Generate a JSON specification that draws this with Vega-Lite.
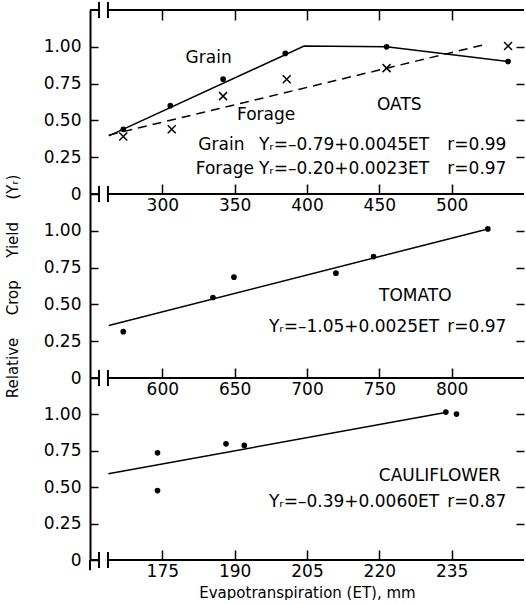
{
  "$schema": "https://vega.github.io/schema/vega-lite/v6.json",
  "background": "white",
  "padding": {"left": 5, "top": 0, "right": 0, "bottom": 0},
  "bounds": "flush",
  "spacing": 0,
  "config": {
    "view": {"stroke": null},
    "font": "DejaVu Sans",
    "axis": {"grid": false, "labelFont": "DejaVu Sans", "labelFontSize": 17, "labelColor": "black", "tickColor": "black", "domainColor": "black", "titleFont": "DejaVu Sans", "titleFontSize": 15, "titleFontWeight": "normal", "titleColor": "black", "tickWidth": 1.5, "domainWidth": 2},
    "text": {"font": "DejaVu Sans", "fontSize": 17, "color": "black"}
  },
  "datasets": {
    "oats_axes": [
      {"x": 250, "x2": 256.2, "y": 0, "y2": 0},
      {"x": 262.4, "x2": 550, "y": 0, "y2": 0},
      {"x": 256.2, "x2": 256.2, "y": -0.055, "y2": 0.055},
      {"x": 262.4, "x2": 262.4, "y": -0.055, "y2": 0.055},
      {"x": 250, "x2": 256.2, "y": 1.25, "y2": 1.25},
      {"x": 262.4, "x2": 550, "y": 1.25, "y2": 1.25},
      {"x": 256.2, "x2": 256.2, "y": 1.195, "y2": 1.305},
      {"x": 262.4, "x2": 262.4, "y": 1.195, "y2": 1.305}
    ],
    "oats_pts": [
      {"crop": "Grain", "ET": 273, "Y": 0.44},
      {"crop": "Grain", "ET": 305.5, "Y": 0.6},
      {"crop": "Grain", "ET": 342, "Y": 0.78},
      {"crop": "Grain", "ET": 385, "Y": 0.955},
      {"crop": "Grain", "ET": 455, "Y": 1.0},
      {"crop": "Grain", "ET": 539, "Y": 0.9},
      {"crop": "Forage", "ET": 273, "Y": 0.39},
      {"crop": "Forage", "ET": 306.5, "Y": 0.44},
      {"crop": "Forage", "ET": 342, "Y": 0.665},
      {"crop": "Forage", "ET": 386, "Y": 0.78},
      {"crop": "Forage", "ET": 455, "Y": 0.855},
      {"crop": "Forage", "ET": 539, "Y": 1.005}
    ],
    "oats_grain_line": [
      {"ET": 263, "Y": 0.395},
      {"ET": 398, "Y": 1.005},
      {"ET": 455, "Y": 1.0},
      {"ET": 539, "Y": 0.9}
    ],
    "oats_forage_line": [
      {"ET": 263, "Y": 0.4},
      {"ET": 525, "Y": 1.02}
    ],
    "oats_text": [
      {"label": "Grain", "ET": 316.1, "Y": 0.925},
      {"label": "Forage", "ET": 351.6, "Y": 0.534},
      {"label": "OATS", "ET": 448.4, "Y": 0.602},
      {"label": "Grain", "ET": 324.9, "Y": 0.331},
      {"label": "Yᵣ=–0.79+0.0045ET", "ET": 366.8, "Y": 0.331},
      {"label": "r=0.99", "ET": 497, "Y": 0.331},
      {"label": "Forage", "ET": 323.1, "Y": 0.168},
      {"label": "Yᵣ=–0.20+0.0023ET", "ET": 366.8, "Y": 0.168},
      {"label": "r=0.97", "ET": 497, "Y": 0.168}
    ],
    "tomato_axes": [
      {"x": 550, "x2": 556.2, "y": 0, "y2": 0},
      {"x": 562.4, "x2": 850, "y": 0, "y2": 0},
      {"x": 556.2, "x2": 556.2, "y": -0.055, "y2": 0.055},
      {"x": 562.4, "x2": 562.4, "y": -0.055, "y2": 0.055}
    ],
    "tomato_pts": [
      {"ET": 573, "Y": 0.315},
      {"ET": 635, "Y": 0.547},
      {"ET": 649.5, "Y": 0.685},
      {"ET": 720, "Y": 0.712},
      {"ET": 746, "Y": 0.825},
      {"ET": 825, "Y": 1.013}
    ],
    "tomato_line": [
      {"ET": 563, "Y": 0.357},
      {"ET": 823, "Y": 1.0075}
    ],
    "tomato_text": [
      {"label": "TOMATO", "ET": 749.8, "Y": 0.554},
      {"label": "Yᵣ=–1.05+0.0025ET", "ET": 673.7, "Y": 0.344},
      {"label": "r=0.97", "ET": 797, "Y": 0.344}
    ],
    "cauli_axes": [
      {"x": 160, "x2": 161.87, "y": 0, "y2": 0},
      {"x": 163.73, "x2": 250, "y": 0, "y2": 0},
      {"x": 161.87, "x2": 161.87, "y": -0.055, "y2": 0.055},
      {"x": 163.73, "x2": 163.73, "y": -0.055, "y2": 0.055},
      {"x": 160, "x2": 160, "y": -0.07, "y2": 0}
    ],
    "cauli_pts": [
      {"ET": 174, "Y": 0.736},
      {"ET": 174, "Y": 0.477},
      {"ET": 188.2, "Y": 0.798},
      {"ET": 192, "Y": 0.787},
      {"ET": 233.8, "Y": 1.016},
      {"ET": 236, "Y": 1.002}
    ],
    "cauli_line": [
      {"ET": 163.8, "Y": 0.593},
      {"ET": 234, "Y": 1.014}
    ],
    "cauli_text": [
      {"label": "CAULIFLOWER", "ET": 219.9, "Y": 0.574},
      {"label": "Yᵣ=–0.39+0.0060ET", "ET": 197.1, "Y": 0.397},
      {"label": "r=0.87", "ET": 234.1, "Y": 0.397}
    ]
  },
  "vconcat": [
    {
      "width": 434,
      "height": 184,
      "resolve": {"axis": {"x": "independent", "y": "independent"}},
      "layer": [
        {
          "data": {"name": "oats_axes"},
          "mark": {"type": "rule", "color": "black", "strokeWidth": 2},
          "encoding": {
            "x": {"field": "x", "type": "quantitative", "scale": {"domain": [250, 550], "nice": false, "zero": false}, "axis": {"orient": "bottom", "values": [300, 350, 400, 450, 500], "domain": false, "tickSize": -10, "labelPadding": 13, "title": null}},
            "x2": {"field": "x2"},
            "y": {"field": "y", "type": "quantitative", "scale": {"domain": [0, 1.25], "nice": false}, "axis": {"orient": "left", "values": [0, 0.25, 0.5, 0.75, 1], "labelExpr": "datum.value == 0 ? '0' : format(datum.value, '.2f')", "tickSize": -8, "labelPadding": 17, "title": "R", "titleOpacity": 0, "titlePadding": 23}},
            "y2": {"field": "y2"}
          }
        },
        {
          "data": {"name": "oats_grain_line"},
          "mark": {"type": "line", "color": "black", "strokeWidth": 1.5},
          "encoding": {
            "x": {"field": "ET", "type": "quantitative", "scale": {"domain": [250, 550], "nice": false, "zero": false}, "axis": {"orient": "top", "values": [300, 350, 400, 450, 500], "domain": false, "labels": false, "tickSize": -10, "title": null}},
            "y": {"field": "Y", "type": "quantitative", "scale": {"domain": [0, 1.25], "nice": false}, "axis": {"orient": "right", "values": [0.25, 0.5, 0.75, 1], "domain": false, "labels": false, "tickSize": -8, "title": null}}
          }
        },
        {
          "data": {"name": "oats_forage_line"},
          "mark": {"type": "line", "color": "black", "strokeWidth": 1.5, "strokeDash": [9, 6]},
          "encoding": {
            "x": {"field": "ET", "type": "quantitative", "scale": {"domain": [250, 550], "nice": false, "zero": false}, "axis": null},
            "y": {"field": "Y", "type": "quantitative", "scale": {"domain": [0, 1.25], "nice": false}, "axis": null}
          }
        },
        {
          "data": {"name": "oats_pts"},
          "transform": [{"filter": "datum.crop == 'Grain'"}],
          "mark": {"type": "circle", "size": 32, "color": "black", "opacity": 1},
          "encoding": {
            "x": {"field": "ET", "type": "quantitative", "scale": {"domain": [250, 550], "nice": false, "zero": false}, "axis": null},
            "y": {"field": "Y", "type": "quantitative", "scale": {"domain": [0, 1.25], "nice": false}, "axis": null}
          }
        },
        {
          "data": {"name": "oats_pts"},
          "transform": [{"filter": "datum.crop == 'Forage'"}],
          "mark": {"type": "point", "shape": "M-1,-1L1,1M-1,1L1,-1", "size": 64, "color": "black", "strokeWidth": 1.5, "filled": false, "opacity": 1},
          "encoding": {
            "x": {"field": "ET", "type": "quantitative", "scale": {"domain": [250, 550], "nice": false, "zero": false}, "axis": null},
            "y": {"field": "Y", "type": "quantitative", "scale": {"domain": [0, 1.25], "nice": false}, "axis": null}
          }
        },
        {
          "data": {"name": "oats_text"},
          "mark": {"type": "text", "align": "left", "baseline": "middle"},
          "encoding": {
            "x": {"field": "ET", "type": "quantitative", "scale": {"domain": [250, 550], "nice": false, "zero": false}, "axis": null},
            "y": {"field": "Y", "type": "quantitative", "scale": {"domain": [0, 1.25], "nice": false}, "axis": null},
            "text": {"field": "label"}
          }
        }
      ]
    },
    {
      "width": 434,
      "height": 184,
      "resolve": {"axis": {"x": "independent", "y": "independent"}},
      "layer": [
        {
          "data": {"name": "tomato_axes"},
          "mark": {"type": "rule", "color": "black", "strokeWidth": 2},
          "encoding": {
            "x": {"field": "x", "type": "quantitative", "scale": {"domain": [550, 850], "nice": false, "zero": false}, "axis": {"orient": "bottom", "values": [600, 650, 700, 750, 800], "domain": false, "tickSize": -10, "labelPadding": 13, "title": null}},
            "x2": {"field": "x2"},
            "y": {"field": "y", "type": "quantitative", "scale": {"domain": [0, 1.25], "nice": false}, "axis": {"orient": "left", "values": [0, 0.25, 0.5, 0.75, 1], "labelExpr": "datum.value == 0 ? '0' : format(datum.value, '.2f')", "tickSize": -8, "labelPadding": 17, "title": "Relative\u2003\u2002Crop\u2003\u2002Yield\u2003\u2002(Yᵣ)", "titlePadding": 23}},
            "y2": {"field": "y2"}
          }
        },
        {
          "data": {"name": "tomato_line"},
          "mark": {"type": "line", "color": "black", "strokeWidth": 1.5},
          "encoding": {
            "x": {"field": "ET", "type": "quantitative", "scale": {"domain": [550, 850], "nice": false, "zero": false}, "axis": null},
            "y": {"field": "Y", "type": "quantitative", "scale": {"domain": [0, 1.25], "nice": false}, "axis": {"orient": "right", "values": [0.25, 0.5, 0.75, 1], "domain": false, "labels": false, "tickSize": -8, "title": null}}
          }
        },
        {
          "data": {"name": "tomato_pts"},
          "mark": {"type": "circle", "size": 32, "color": "black", "opacity": 1},
          "encoding": {
            "x": {"field": "ET", "type": "quantitative", "scale": {"domain": [550, 850], "nice": false, "zero": false}, "axis": null},
            "y": {"field": "Y", "type": "quantitative", "scale": {"domain": [0, 1.25], "nice": false}, "axis": null}
          }
        },
        {
          "data": {"name": "tomato_text"},
          "mark": {"type": "text", "align": "left", "baseline": "middle"},
          "encoding": {
            "x": {"field": "ET", "type": "quantitative", "scale": {"domain": [550, 850], "nice": false, "zero": false}, "axis": null},
            "y": {"field": "Y", "type": "quantitative", "scale": {"domain": [0, 1.25], "nice": false}, "axis": null},
            "text": {"field": "label"}
          }
        }
      ]
    },
    {
      "width": 434,
      "height": 182,
      "resolve": {"axis": {"x": "independent", "y": "independent"}},
      "layer": [
        {
          "data": {"name": "cauli_axes"},
          "mark": {"type": "rule", "color": "black", "strokeWidth": 2},
          "encoding": {
            "x": {"field": "x", "type": "quantitative", "scale": {"domain": [160, 250], "nice": false, "zero": false}, "axis": {"orient": "bottom", "values": [175, 190, 205, 220, 235], "domain": false, "tickSize": -10, "labelPadding": 13, "title": "Evapotranspiration (ET), mm", "titlePadding": 6}},
            "x2": {"field": "x2"},
            "y": {"field": "y", "type": "quantitative", "scale": {"domain": [0, 1.25], "nice": false}, "axis": {"orient": "left", "values": [0, 0.25, 0.5, 0.75, 1], "labelExpr": "datum.value == 0 ? '0' : format(datum.value, '.2f')", "tickSize": -8, "labelPadding": 17, "title": "R", "titleOpacity": 0, "titlePadding": 23}},
            "y2": {"field": "y2"}
          }
        },
        {
          "data": {"name": "cauli_line"},
          "mark": {"type": "line", "color": "black", "strokeWidth": 1.5},
          "encoding": {
            "x": {"field": "ET", "type": "quantitative", "scale": {"domain": [160, 250], "nice": false, "zero": false}, "axis": null},
            "y": {"field": "Y", "type": "quantitative", "scale": {"domain": [0, 1.25], "nice": false}, "axis": {"orient": "right", "values": [0.25, 0.5, 0.75, 1], "domain": false, "labels": false, "tickSize": -8, "title": null}}
          }
        },
        {
          "data": {"name": "cauli_pts"},
          "mark": {"type": "circle", "size": 32, "color": "black", "opacity": 1},
          "encoding": {
            "x": {"field": "ET", "type": "quantitative", "scale": {"domain": [160, 250], "nice": false, "zero": false}, "axis": null},
            "y": {"field": "Y", "type": "quantitative", "scale": {"domain": [0, 1.25], "nice": false}, "axis": null}
          }
        },
        {
          "data": {"name": "cauli_text"},
          "mark": {"type": "text", "align": "left", "baseline": "middle"},
          "encoding": {
            "x": {"field": "ET", "type": "quantitative", "scale": {"domain": [160, 250], "nice": false, "zero": false}, "axis": null},
            "y": {"field": "Y", "type": "quantitative", "scale": {"domain": [0, 1.25], "nice": false}, "axis": null},
            "text": {"field": "label"}
          }
        }
      ]
    }
  ]
}
